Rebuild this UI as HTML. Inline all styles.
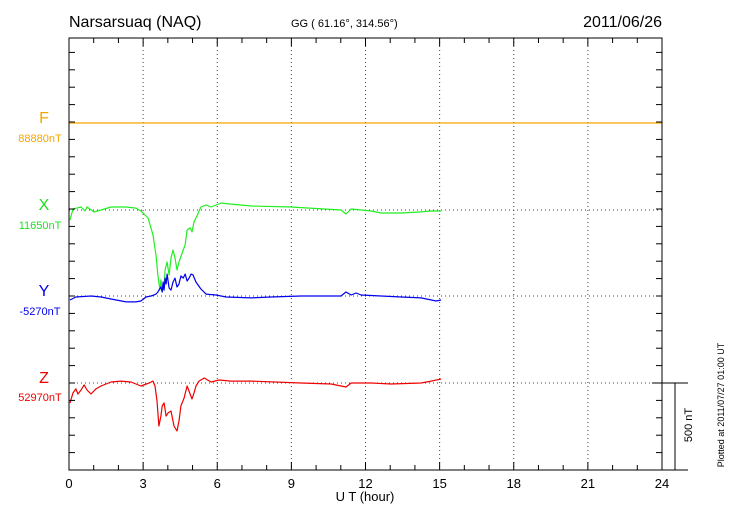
<!DOCTYPE html>
<html><head><meta charset="utf-8">
<style>
body{margin:0;background:#fff;}
svg{display:block;font-family:"Liberation Sans",sans-serif;}
</style></head>
<body>
<svg id="chart" width="730" height="520" viewBox="0 0 730 520">
<text x="69" y="27" font-size="16">Narsarsuaq (NAQ)</text>
<text x="291" y="27" font-size="11">GG ( 61.16°, 314.56°)</text>
<text x="662" y="27" font-size="16" text-anchor="end">2011/06/26</text>
<g id="grid"></g>
<g id="series"></g>
<rect x="69" y="38" width="593" height="432" fill="none" stroke="#000" stroke-width="1"/>
<g id="axes"></g>
<text x="365" y="501" font-size="13" text-anchor="middle">U T (hour)</text>
<text x="44" y="123" font-size="16" fill="#f5a500" text-anchor="middle">F</text>
<text x="40" y="142" font-size="11" fill="#f5a500" text-anchor="middle">88880nT</text>
<text x="44" y="210" font-size="16" fill="#22dd22" text-anchor="middle">X</text>
<text x="40" y="229" font-size="11" fill="#22dd22" text-anchor="middle">11650nT</text>
<text x="44" y="296" font-size="16" fill="#0000ee" text-anchor="middle">Y</text>
<text x="40" y="315" font-size="11" fill="#0000ee" text-anchor="middle">-5270nT</text>
<text x="44" y="383" font-size="16" fill="#ee0000" text-anchor="middle">Z</text>
<text x="40" y="401" font-size="11" fill="#ee0000" text-anchor="middle">52970nT</text>
<g>
<line x1="652" y1="383" x2="688" y2="383" stroke="#000"/>
<line x1="675" y1="383" x2="675" y2="470" stroke="#000"/>
<line x1="652" y1="470" x2="688" y2="470" stroke="#000"/>
</g>
<text transform="translate(692,425) rotate(-90)" font-size="11" text-anchor="middle">500 nT</text>
<text transform="translate(724,405) rotate(-90)" font-size="9" text-anchor="middle">Plotted at 2011/07/27 01:00 UT</text>
</svg>
<script>
const xTicks=[0,3,6,9,12,15,18,21,24];
const tX=[0.04,0.16,0.32,0.49,0.65,0.73,1.01,1.30,1.70,2.31,2.71,2.91,3.20,3.40,3.52,3.60,3.68,3.72,3.77,3.85,3.89,3.97,4.05,4.13,4.21,4.29,4.37,4.45,4.62,4.70,4.78,4.90,4.98,5.06,5.18,5.34,5.55,5.75,5.95,6.15,6.56,7.37,8.99,11.01,11.21,11.42,12.23,12.63,13.44,14.25,14.66,15.06];
const vX=[-57,6,11,17,-6,17,-11,0,17,17,11,-6,-46,-144,-259,-374,-460,-402,-471,-431,-345,-299,-374,-276,-230,-276,-345,-299,-230,-201,-115,-103,-126,-69,-34,17,29,17,29,40,34,23,17,0,-23,6,-6,-17,-17,-11,-6,-6];
const tY=[0.04,0.28,0.89,1.30,1.70,2.31,2.71,2.91,3.12,3.32,3.44,3.52,3.60,3.64,3.72,3.77,3.81,3.85,3.89,3.93,3.97,4.05,4.13,4.21,4.29,4.37,4.45,4.53,4.62,4.70,4.78,4.86,4.94,5.02,5.14,5.34,5.55,5.95,6.36,7.37,8.18,9.39,11.01,11.21,11.42,11.62,11.82,12.63,13.44,14.25,14.86,15.06];
const vY=[-23,-6,0,-6,-17,-34,-34,-29,-6,0,6,11,23,34,52,23,80,34,103,69,126,46,34,80,103,52,69,115,103,126,86,103,126,121,80,40,11,6,-6,-11,-6,0,0,23,6,17,6,0,-6,-11,-29,-23];
const tZ=[0.04,0.16,0.28,0.36,0.49,0.61,0.73,0.89,1.09,1.30,1.70,2.11,2.51,2.91,3.24,3.40,3.48,3.56,3.64,3.72,3.77,3.85,3.93,4.01,4.13,4.25,4.37,4.45,4.53,4.66,4.78,4.90,4.98,5.06,5.14,5.26,5.47,5.75,6.07,6.56,7.37,9.39,10.61,11.21,11.42,12.23,13.04,14.25,14.66,15.06];
const vZ=[-115,-57,-34,-63,-40,-11,-40,-63,-34,-17,6,11,6,-17,0,11,-17,-103,-247,-190,-132,-115,-190,-172,-161,-247,-276,-218,-132,-86,-17,-63,-92,-57,-17,11,29,6,17,11,11,0,-6,-23,0,0,-6,0,11,23];
const tF=[0,24];
const vF=[0,0];

const NS="http://www.w3.org/2000/svg";
const X0=69,X1=662,Y0=38,Y1=470;
const xs=h=>X0+h*(X1-X0)/24;
const PXNT=87/500;
const base={F:123,X:210,Y:296,Z:383};
const ys=(b,v)=>b-v*PXNT;
function mk(tag,attrs,parent){const e=document.createElementNS(NS,tag);for(const k in attrs)e.setAttribute(k,attrs[k]);parent.appendChild(e);return e;}
const grid=document.getElementById('grid'),axes=document.getElementById('axes'),ser=document.getElementById('series');
// vertical dotted grid
xTicks.forEach((h,i)=>{
 if(i>0&&i<xTicks.length-1){const l=mk('line',{x1:xs(h),y1:Y0,x2:xs(h),y2:Y1,stroke:'#444','stroke-dasharray':'1,3'},grid);
 
 }
 const t=mk('text',{x:xs(h),y:488,'font-size':13,'text-anchor':'middle'},axes);t.textContent=h;
 
 
});
['X','Y','Z'].forEach(k=>{const l=mk('line',{x1:X0,y1:base[k],x2:X1,y2:base[k],stroke:'#444','stroke-dasharray':'1,3'},grid);
 
 });
// minor ticks
for(let h=0;h<=24;h++){const big=h%3===0,len=big?8:5;
 mk('line',{x1:xs(h),y1:Y1,x2:xs(h),y2:Y1-len,stroke:'#000'},axes);
 mk('line',{x1:xs(h),y1:Y0,x2:xs(h),y2:Y0+len,stroke:'#000'},axes);}
for(let y=base.Z+87;y>=Y0;y-=87/5){
 mk('line',{x1:X0,y1:y,x2:X0+6,y2:y,stroke:'#000'},axes);
 mk('line',{x1:X1,y1:y,x2:X1-6,y2:y,stroke:'#000'},axes);}
function draw(ts,vs,b,color,name){
 const d=ts.map((t,i)=>(i?'L':'M')+xs(t).toFixed(1)+','+ys(b,vs[i]).toFixed(1)).join('');
 const p=mk('path',{d:d,fill:'none',stroke:color,'stroke-width':1.2,'stroke-linejoin':'round'},ser);
 
 
}
draw(tF,vF,base.F,'#f5a500','series-f');
draw(tX,vX,base.X,'#22ee22','series-x');
draw(tY,vY,base.Y,'#0000ee','series-y');
draw(tZ,vZ,base.Z,'#ee0000','series-z');
</script>
</body></html>
